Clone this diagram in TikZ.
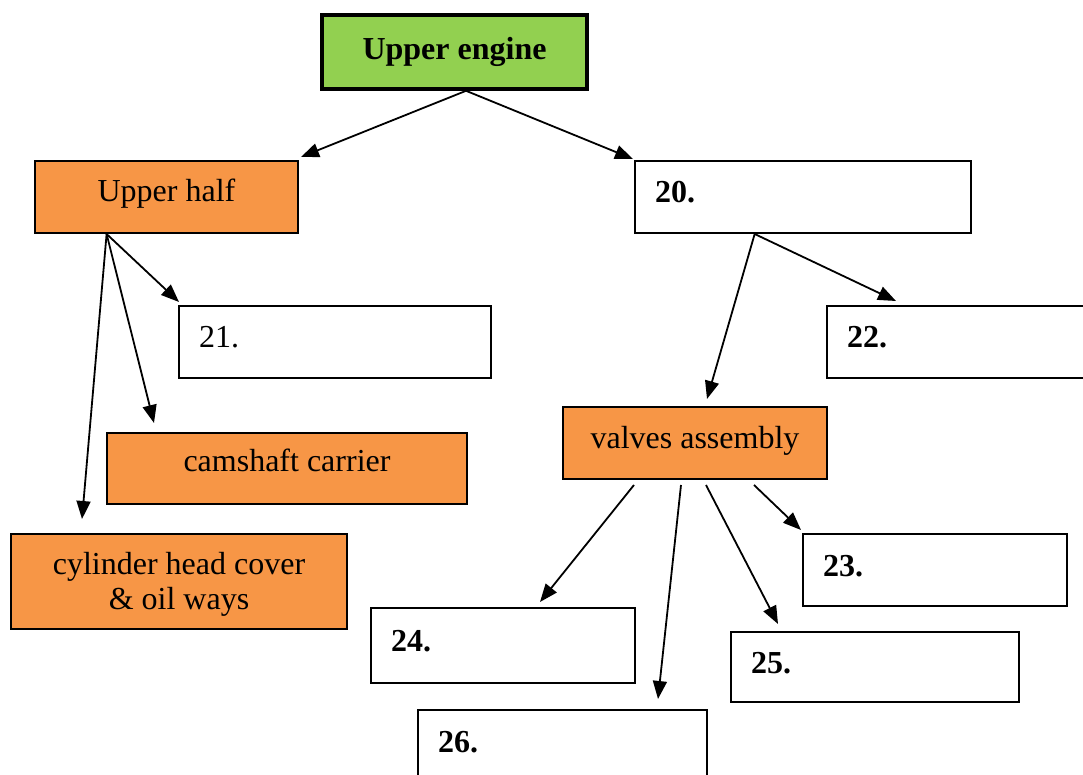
\documentclass[tikz,border=0pt]{standalone}
\usepackage{fontspec}
\setmainfont{Liberation Serif}
\usetikzlibrary{calc,arrows.meta}
\definecolor{orangefill}{HTML}{F79646}
\definecolor{greenfill}{HTML}{92D050}
\begin{document}
\begin{tikzpicture}[x=0.5pt,y=-0.5pt,
  every node/.style={font=\fontsize{16}{17.8}\selectfont},
  basebox/.style={draw=black,line width=1pt,inner sep=0pt,minimum height=#1*0.5pt},
  orangebox/.style={basebox=#1,fill=orangefill,align=center},
  blankbox/.style 2 args={basebox=#2,fill=white,align=left,inner xsep=10pt,text width=(#1-40)*0.5pt,text height=11pt,text depth=5pt},
  boldtext/.style={font=\fontsize{16}{17.8}\selectfont\bfseries},
  arr/.style={line width=0.9pt,-{Triangle[length=9pt,width=7pt]}}]
\useasboundingbox (0,0) rectangle (1083,775);
% nodes
\node[basebox=74,fill=greenfill,line width=1.8pt,minimum width=265*0.5pt,boldtext] (ue) at (454.5,52) {Upper engine};
\node[orangebox=72,minimum width=263*0.5pt,text height=11pt,text depth=6.3pt] (uh) at (166.5,197) {Upper half};
\node[blankbox={336}{72},boldtext] (n20) at (803,197) {20.};
\node[blankbox={312}{72}] (n21) at (335,342) {21.};
\node[blankbox={270}{72},boldtext] (n22) at (962,342) {22.};
\node[orangebox=72,minimum width=264*0.5pt,text height=11pt,text depth=5pt] (va) at (695,443) {valves assembly};
\node[orangebox=71,minimum width=360*0.5pt,text height=11pt,text depth=8pt] (cam) at (287,468.5) {camshaft carrier};
\node[orangebox=95,minimum width=336*0.5pt,text height=31.7pt,text depth=3.5pt] (cyl) at (179,581.5) {cylinder head cover\\\& oil ways};
\node[blankbox={264}{72},boldtext] (n23) at (935,570) {23.};
\node[blankbox={264}{75},boldtext] (n24) at (503,645.5) {24.};
\node[blankbox={288}{70},boldtext] (n25) at (875,667) {25.};
\node[blankbox={289}{72},boldtext] (n26) at (562.5,746) {26.};
% connectors
\coordinate (ueb) at ($(ue.south west)!0.543!(ue.south east)$);
\coordinate (uhb) at ($(uh.south west)!0.274!(uh.south east)$);
\coordinate (n20b) at ($(n20.south west)!0.357!(n20.south east)$);
\draw[arr] (ueb) -- ($(uh.north east)+(2,-3)$);
\draw[arr] (ueb) -- ($(n20.north west)+(-1,-1)$);
\draw[arr] (uhb) -- ($(n21.north west)+(1,-3)$);
\draw[arr] (uhb) -- ($(cam.north west)+(48,-9)$);
\draw[arr] (uhb) -- ($(cyl.north west)+(72,-14)$);
\draw[arr] (n20b) -- ($(n22.north west)+(70,-4)$);
\draw[arr] (n20b) -- ($(va.north west)+(145,-7)$);
\draw[arr] ($(va.south west)+(72,5)$) -- ($(n24.north west)+(170,-5)$);
\draw[arr] ($(va.south west)+(119,5)$) -- ($(n26.north west)+(241,-10)$);
\draw[arr] ($(va.south west)+(144,5)$) -- ($(n25.north west)+(48,-7)$);
\draw[arr] ($(va.south west)+(192,5)$) -- ($(n23.north west)+(-1,-3)$);
\end{tikzpicture}
\end{document}
